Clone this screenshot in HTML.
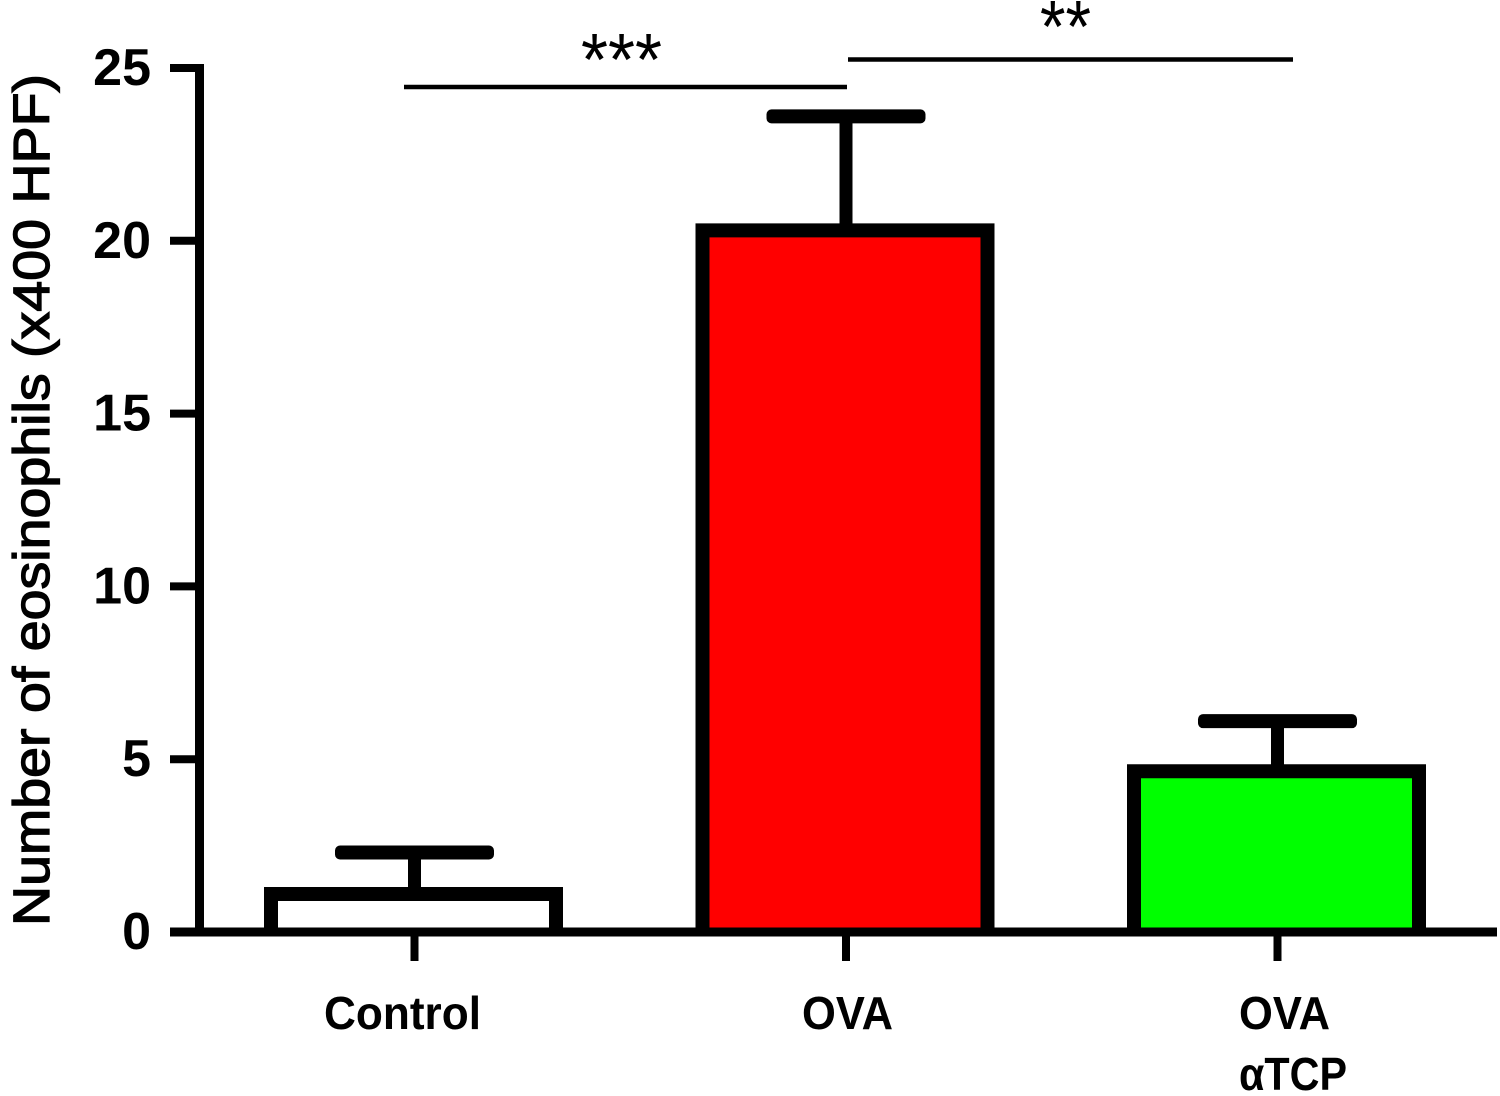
<!DOCTYPE html>
<html>
<head>
<meta charset="utf-8">
<title>Number of eosinophils</title>
<style>
html,body{margin:0;padding:0;background:#fff;}
svg{display:block;}
text{font-family:"Liberation Sans",sans-serif;fill:#000;}
.tick-label,.cat{font-weight:bold;}
</style>
</head>
<body>
<svg id="chart" xmlns="http://www.w3.org/2000/svg" width="1500" height="1096" viewBox="0 0 1500 1096">
  <g id="bars"></g>
  <g id="axes"></g>
  <text style="stroke:#000;stroke-width:1.3" font-size="51" text-anchor="start" transform="translate(49,926) rotate(-90)" textLength="852" lengthAdjust="spacingAndGlyphs">Number of eosinophils (x400 HPF)</text>
  <text class="cat" font-size="46" x="324" y="1029" textLength="157" lengthAdjust="spacingAndGlyphs">Control</text>
  <text class="cat" font-size="46" x="802" y="1029" textLength="91" lengthAdjust="spacingAndGlyphs">OVA</text>
  <text class="cat" font-size="46" x="1239" y="1029" textLength="91" lengthAdjust="spacingAndGlyphs">OVA</text>
  <text class="cat" font-size="46" x="1239" y="1090" textLength="108" lengthAdjust="spacingAndGlyphs">αTCP</text>
  <line x1="404" y1="87" x2="847" y2="87" stroke="#000" stroke-width="4.5"/>
  <line x1="848" y1="59.5" x2="1293" y2="59.5" stroke="#000" stroke-width="4.5"/>
  <text font-size="74" x="581" y="85" textLength="81" lengthAdjust="spacingAndGlyphs">***</text>
  <text font-size="74" x="1040" y="52" textLength="51" lengthAdjust="spacingAndGlyphs">**</text>
</svg>
<script>
const categories = ["Control", "OVA", "OVA aTCP"];
const means = [1.1, 20.3, 4.65];
const upperErrors = [2.3, 23.6, 6.1];
const fills = ["#ffffff", "#ff0000", "#00ff00"];
const yTicks = [0, 5, 10, 15, 20, 25];
const yTickLabels = ["0", "5", "10", "15", "20", "25"];

const NS = "http://www.w3.org/2000/svg";
function yScale(v) { return 932 - v * 34.56; }
function xScale(i) { return 414.5 + i * 431.5; }
const BAR_W = 285, CAP_W = 152, BAR_SHIFT = -1;

function mk(tag, attrs) {
  const el = document.createElementNS(NS, tag);
  for (const k in attrs) el.setAttribute(k, attrs[k]);
  return el;
}

const barsG = document.getElementById("bars");
const axesG = document.getElementById("axes");

categories.forEach(function (c, i) {
  const cx = xScale(i);
  const slug = c.toLowerCase().replace(/\s+/g, "-");
  const top = yScale(means[i]);
  const base = yScale(0);
  const capY = yScale(upperErrors[i]);
  const left = cx + BAR_SHIFT - BAR_W / 2;
  const right = left + BAR_W;

  const stem = mk("line", { x1: cx, x2: cx, y1: capY, y2: top, stroke: "#000", "stroke-width": 13 });
  
  
  barsG.appendChild(stem);

  const cap = mk("rect", { x: cx - CAP_W / 2 - 3.5, y: capY - 7, width: CAP_W + 7, height: 14, rx: 5, fill: "#000" });
  
  
  barsG.appendChild(cap);

  const d = "M" + left + " " + base + " L" + left + " " + top + " L" + right + " " + top + " L" + right + " " + base;
  const bar = mk("path", { d: d, fill: fills[i], stroke: "#000", "stroke-width": 14 });
  
  
  barsG.appendChild(bar);

  const xt = mk("line", { x1: cx, x2: cx, y1: base, y2: 961, stroke: "#000", "stroke-width": 8 });
  
  
  axesG.appendChild(xt);
});

const yAxis = mk("line", { x1: 199.5, x2: 199.5, y1: yScale(25) - 4, y2: yScale(0), stroke: "#000", "stroke-width": 9 });


axesG.appendChild(yAxis);

const xAxis = mk("line", { x1: 170, x2: 1497, y1: yScale(0), y2: yScale(0), stroke: "#000", "stroke-width": 9 });


axesG.appendChild(xAxis);

yTicks.forEach(function (t, i) {
  const tick = mk("line", { x1: 170, x2: 200, y1: yScale(t), y2: yScale(t), stroke: "#000", "stroke-width": 8 });
  
  
  axesG.appendChild(tick);

  const label = mk("text", { x: 151, y: yScale(t) + 17, "text-anchor": "end", "font-size": 52, "class": "tick-label" });
  
  
  label.textContent = yTickLabels[i];
  axesG.appendChild(label);
});
</script>
</body>
</html>
